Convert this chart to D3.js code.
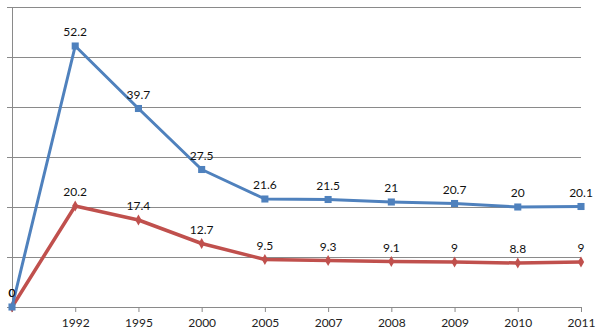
<!DOCTYPE html>
<html><head><meta charset="utf-8">
<script src="https://cdn.jsdelivr.net/npm/d3@7"></script>
<style>
body{margin:0;background:#fff;}
svg text{font-family:Lato,"Open Sans",sans-serif;}
</style></head>
<body><svg id="c" width="607" height="336"></svg>
<script>
const categories = ["", "1992", "1995", "2000", "2005", "2007", "2008", "2009", "2010", "2011"];
const seriesBlue = [0, 52.2, 39.7, 27.5, 21.6, 21.5, 21, 20.7, 20, 20.1];
const seriesRed = [0, 20.2, 17.4, 12.7, 9.5, 9.3, 9.1, 9, 8.8, 9];
const yTicks = [0, 10, 20, 30, 40, 50, 60];

const svg = d3.select("#c");
const x = d3.scalePoint().domain(categories).range([12, 581]).padding(0);
const y = d3.scaleLinear().domain([0, 60]).range([307, 7]);
const gridColor = "#8a8a8a";

// gridlines
svg.append("g").attr("transform","translate(12,0)")
  .call(d3.axisLeft(y).tickValues(yTicks).tickSize(-569).tickFormat(""))
  .call(g=>{g.select(".domain").remove(); g.selectAll("line").attr("stroke",gridColor);});
// y axis ticks
svg.append("g").attr("transform","translate(12,0)")
  .call(d3.axisLeft(y).tickValues(yTicks).tickSize(5).tickFormat(""))
  .call(g=>{g.select(".domain").attr("stroke",gridColor); g.selectAll("line").attr("stroke",gridColor);});
// x axis
svg.append("g").attr("transform","translate(0,307)")
  .call(d3.axisBottom(x).tickSize(5).tickPadding(6).tickSizeOuter(0))
  .call(g=>{g.select(".domain").attr("stroke",gridColor); g.selectAll("line").attr("stroke",gridColor);
    g.selectAll("text").attr("font-size",12).attr("fill","#222").attr("font-family","Lato");});

function drawSeries(vals, color, marker, lw){
  const line = d3.line().x((d,i)=>x(categories[i])).y(d=>y(d));
  svg.append("path").datum(vals).attr("d",line).attr("fill","none")
    .attr("stroke",color).attr("stroke-width",lw).attr("stroke-linejoin","round");
  const sym = d3.symbol().type(marker==="square"?d3.symbolSquare:d3.symbolDiamond).size(marker==="square"?50:34);
  svg.append("g").selectAll("path").data(vals).join("path")
    .attr("d",sym).attr("fill",color)
    .attr("transform",(d,i)=>`translate(${x(categories[i])},${y(d)})`);
  svg.append("g").selectAll("text").data(vals).join("text")
    .attr("x",(d,i)=>x(categories[i])).attr("y",d=>y(d)-10)
    .attr("text-anchor","middle").attr("font-size",12).attr("fill","#111")
    .text(d=>d);
}
drawSeries(seriesRed, "#C0504D", "diamond", 3.5);
drawSeries(seriesBlue, "#4F81BD", "square", 3);
</script></body></html>
